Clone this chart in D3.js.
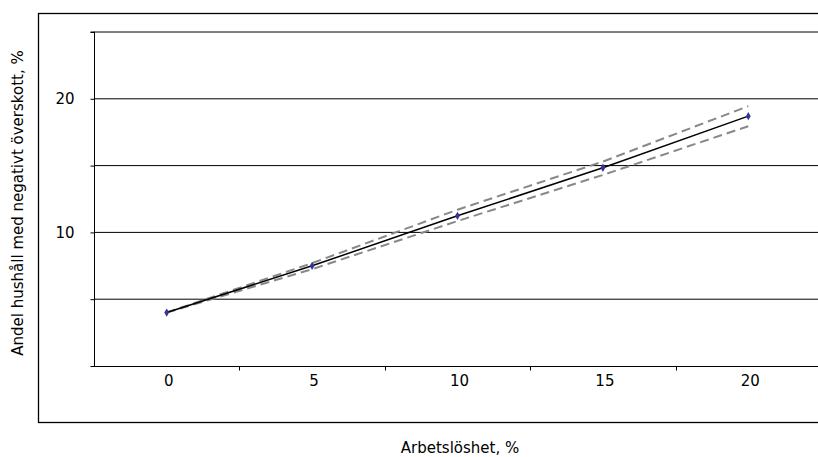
<!DOCTYPE html>
<html>
<head>
<meta charset="utf-8">
<script src="https://cdn.jsdelivr.net/npm/d3@7"></script>
<style>
  body { margin: 0; background: #fff; }
  text { font-family: "DejaVu Sans", Verdana, sans-serif; fill: #000; }
</style>
</head>
<body>
<div id="chart"></div>
<script>
// data
var categories = ['0', '5', '10', '15', '20'];
var values = [4.0, 7.5, 11.24, 14.84, 18.7];
var upper = [4.0, 7.7, 11.7, 15.3, 19.45];
var lower = [4.0, 7.25, 10.85, 14.3, 17.95];
var yTicks = [0, 5, 10, 15, 20, 25];
var yLabels = [10, 20];

var width = 818, height = 457;
var fontSize = '15px';

var svg = d3.select('#chart').append('svg')
    .attr('width', width)
    .attr('height', height);

// outer frame
svg.append('rect')
    .attr('x', 38.5).attr('y', 13.5)
    .attr('width', 800).attr('height', 409)
    .attr('fill', 'none')
    .attr('stroke', '#000')
    .attr('stroke-width', 1.3);

var x = d3.scaleBand().domain(categories).range([94, 821]);
var y = d3.scaleLinear().domain([0, 25]).range([366, 32]);

// gridlines
svg.append('g').selectAll('line')
    .data(yTicks.filter(function(d) { return d > 0; }))
    .enter().append('line')
    .attr('x1', 94).attr('x2', 821)
    .attr('y1', function(d) { return y(d); })
    .attr('y2', function(d) { return y(d); })
    .attr('stroke', '#000')
    .attr('stroke-width', 1);

// y axis
var yAxis = d3.axisLeft(y)
    .tickValues(yTicks)
    .tickSize(4)
    .tickFormat(function(d) { return yLabels.indexOf(d) > -1 ? d : ''; });
var gy = svg.append('g').attr('transform', 'translate(94.5,0)').call(yAxis);
gy.select('.domain').attr('d', 'M-4,' + y(25) + 'H0V' + y(0));
gy.selectAll('.tick text')
    .attr('x', -20)
    .style('font-size', fontSize)
    .style('font-family', '"DejaVu Sans", Verdana, sans-serif');

// x axis
var xAxis = d3.axisBottom(x).tickSize(0).tickPadding(9);
var gx = svg.append('g').attr('transform', 'translate(0,366.5)').call(xAxis);
gx.select('.domain').attr('d', 'M94,0H821');
gx.selectAll('.tick text')
    .attr('dx', 2)
    .style('font-size', fontSize)
    .style('font-family', '"DejaVu Sans", Verdana, sans-serif');
// tick marks between categories
gx.selectAll('.cat-tick')
    .data(categories.slice(1))
    .enter().append('line')
    .attr('class', 'cat-tick')
    .attr('x1', function(d) { return Math.round(x(d)) + 0.5; })
    .attr('x2', function(d) { return Math.round(x(d)) + 0.5; })
    .attr('y1', 0).attr('y2', 4)
    .attr('stroke', '#000');

var cx = function(d, i) { return x(categories[i]) + x.bandwidth() / 2; };

var line = d3.line()
    .x(function(d, i) { return cx(d, i); })
    .y(function(d) { return y(d); });

// confidence band lines
[upper, lower].forEach(function(s) {
    svg.append('path')
        .datum(s)
        .attr('d', line)
        .attr('fill', 'none')
        .attr('stroke', '#888')
        .attr('stroke-width', 2)
        .attr('stroke-dasharray', '9,5');
});

// main series
svg.append('path')
    .datum(values)
    .attr('d', line)
    .attr('fill', 'none')
    .attr('stroke', '#000')
    .attr('stroke-width', 1.5);

svg.append('g').selectAll('path')
    .data(values)
    .enter().append('path')
    .attr('transform', function(d, i) { return 'translate(' + cx(d, i) + ',' + y(d) + ')'; })
    .attr('d', d3.symbol().type(d3.symbolDiamond).size(20))
    .attr('fill', '#333399');

// titles
svg.append('text')
    .attr('x', 460).attr('y', 453)
    .attr('text-anchor', 'middle')
    .style('font-size', fontSize)
    .text('Arbetslöshet, %');

svg.append('text')
    .attr('transform', 'translate(23,203) rotate(-90)')
    .attr('text-anchor', 'middle')
    .style('font-size', fontSize)
    .text('Andel hushåll med negativt överskott, %');
</script>
</body>
</html>
